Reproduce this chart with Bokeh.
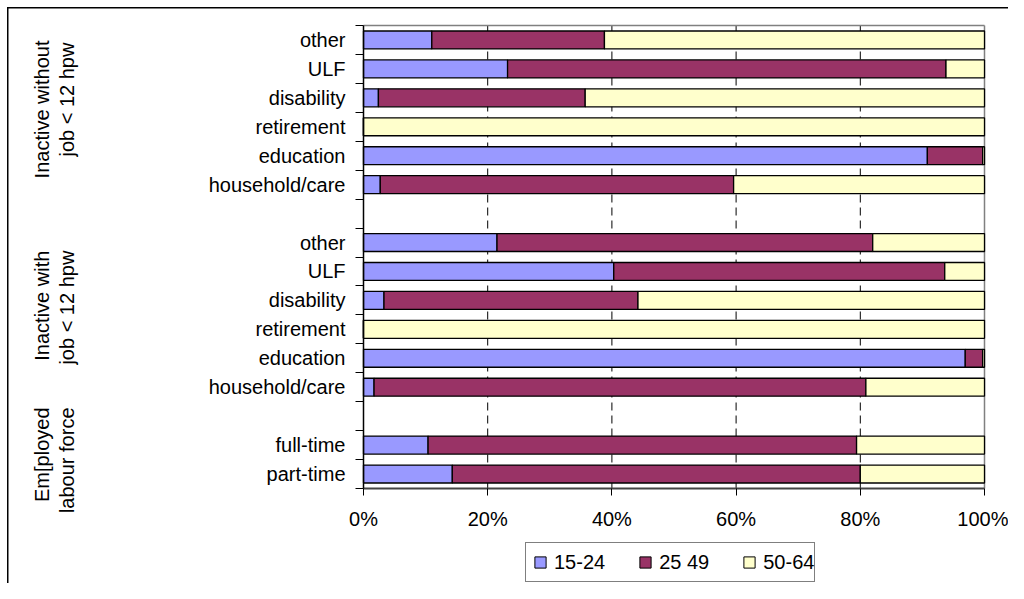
from math import pi
from bokeh.plotting import figure
from bokeh.models import (ColumnDataSource, Range1d, FixedTicker, Legend,
                          LegendItem, Label)
from bokeh.embed import file_html
from bokeh.resources import INLINE

# ---------------- data ----------------
group_titles = [
    ["Inactive without", "job < 12 hpw"],
    ["Inactive with", "job < 12 hpw"],
    ["Em[ployed", "labour force"],
]
group_categories = [
    ["other", "ULF", "disability", "retirement", "education", "household/care"],
    ["other", "ULF", "disability", "retirement", "education", "household/care"],
    ["full-time", "part-time"],
]
series_names = ["15-24", "25 49", "50-64"]
age_15_24 = [11.0, 23.2, 2.4, 0.0, 90.8, 2.7,
             21.5, 40.3, 3.3, 0.0, 96.9, 1.7,
             10.4, 14.3]
age_25_49 = [27.8, 70.6, 33.3, 0.0, 8.9, 56.9,
             60.5, 53.3, 40.9, 0.0, 2.8, 79.2,
             69.0, 65.7]
age_50_64 = [61.2, 6.2, 64.3, 100.0, 0.3, 40.4,
             18.0, 6.4, 55.8, 100.0, 0.3, 19.1,
             20.6, 20.0]
x_ticks = [0, 20, 40, 60, 80, 100]
x_tick_labels = ["0%", "20%", "40%", "60%", "80%", "100%"]

colors = ["#9999FF", "#993366", "#FFFFCC"]
FONT = "Liberation Sans"
FS = "20px"

# ---------------- layout (pixels) ----------------
W, H = 1008, 583
PLOT_L, PLOT_R, PLOT_T, PLOT_B = 363, 984, 25, 488

# ---------------- slot positions (one empty slot between groups) -------------
n_slots = sum(len(g) for g in group_categories) + len(group_categories) - 1
ys, labels = [], []
slot = 0
for gi, cats in enumerate(group_categories):
    for c in cats:
        ys.append(n_slots - slot - 0.5)
        labels.append(c)
        slot += 1
    slot += 1

src = ColumnDataSource(dict(y=ys, a=age_15_24, b=age_25_49, c=age_50_64))

# the frame covers the whole canvas; axes are pinned at data positions
xmin, xmax = x_ticks[0], x_ticks[-1]
px_x = (PLOT_R - PLOT_L) / (xmax - xmin)
px_y = (PLOT_B - PLOT_T) / n_slots
x_range = Range1d(xmin - PLOT_L / px_x, xmax + (W - PLOT_R) / px_x)
y_range = Range1d(-(H - PLOT_B) / px_y, n_slots + PLOT_T / px_y)

p = figure(width=W, height=H, x_range=x_range, y_range=y_range,
           output_backend="svg", toolbar_location=None,
           min_border=0, min_border_left=0, min_border_right=0,
           min_border_top=0, min_border_bottom=0)
p.border_fill_alpha = 0
p.background_fill_alpha = 0
p.outline_line_color = None
# outer chart border (left / top)
p.styles = {
    "background-color": "#ffffff",
    "background-image": "linear-gradient(#000,#000), linear-gradient(#000,#000)",
    "background-size": "1.5px 100%, 100% 1.5px",
    "background-position": "7px 7px, 7px 7px",
    "background-repeat": "no-repeat, no-repeat",
}

# dashed vertical grid lines limited to the plot area
grid_x = x_ticks[1:-1]
p.segment(x0=grid_x, y0=[0] * len(grid_x), x1=grid_x, y1=[n_slots] * len(grid_x),
          line_color="black", line_dash="8 5", line_width=1)
# plot-area border (top and right, grey)
p.segment(x0=[xmin, xmax], y0=[n_slots, 0], x1=[xmax, xmax], y1=[n_slots, n_slots],
          line_color="#808080", line_width=1.5)

p.hbar_stack(["a", "b", "c"], y="y", height=0.62, source=src,
             fill_color=colors, line_color="black", line_width=1.3)

p.xgrid.visible = False
p.ygrid.visible = False

# x axis
xa = p.xaxis[0]
xa.fixed_location = 0
xa.bounds = (xmin, xmax)
xa.ticker = FixedTicker(ticks=x_ticks)
xa.major_label_overrides = {t: l for t, l in zip(x_ticks, x_tick_labels)}
xa.major_tick_out = 7
xa.major_tick_in = 0
xa.minor_tick_out = 0
xa.minor_tick_in = 0
xa.major_tick_line_color = "black"
xa.axis_line_color = "#444444"
xa.axis_line_width = 2
xa.major_label_standoff = 12
xa.major_label_text_font = FONT
xa.major_label_text_font_size = FS
xa.major_label_text_color = "black"

# y axis (labels at bar centres, ticks at slot boundaries)
ya = p.yaxis[0]
ya.fixed_location = xmin
ya.bounds = (0, n_slots)
ya.ticker = FixedTicker(ticks=ys, minor_ticks=list(range(0, n_slots + 1)))
ya.major_label_overrides = {y: l for y, l in zip(ys, labels)}
ya.major_tick_out = 0
ya.major_tick_in = 0
ya.minor_tick_out = 8
ya.minor_tick_in = 0
ya.minor_tick_line_color = "black"
ya.axis_line_color = "black"
ya.axis_line_width = 1.5
ya.major_label_standoff = 10
ya.major_label_text_font = FONT
ya.major_label_text_font_size = FS
ya.major_label_text_color = "black"

# group titles (rotated, top-aligned), positions in slot units
title_pos = [(15.48, 15.41), (8.22, 8.22), (2.80, 2.80)]
for (l1, l2), (y1, y2) in zip(group_titles, title_pos):
    for txt, xx, yy in ((l1, 41, y1), (l2, 66, y2)):
        p.add_layout(Label(x=xx, x_units="screen", y=yy, y_units="data",
                           text=txt, angle=pi / 2, text_align="right",
                           text_baseline="middle", text_font=FONT,
                           text_font_size=FS, text_color="black"))

# legend (proxy square markers that are never drawn)
nan = float("nan")
leg_r = [p.scatter(x=[nan], y=[nan], marker="square", size=11, fill_color=c,
                   line_color="black", line_width=1) for c in colors]
legend = Legend(items=[LegendItem(label=n, renderers=[r])
                       for n, r in zip(series_names, leg_r)],
                orientation="horizontal", location=(525, 1),
                border_line_color="black", border_line_width=1,
                background_fill_color="white", background_fill_alpha=1,
                padding=0, spacing=26, margin=0,
                glyph_width=28, glyph_height=38, label_height=38,
                label_standoff=0, label_text_font=FONT,
                label_text_font_size=FS, label_text_color="black")
p.add_layout(legend)

open("out.html", "w").write(file_html(p, INLINE))
